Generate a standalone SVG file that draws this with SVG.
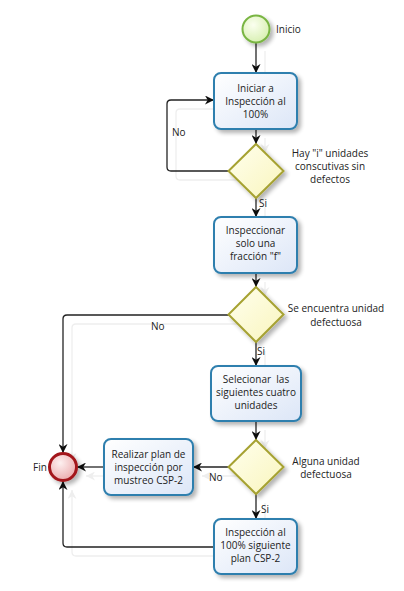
<svg xmlns="http://www.w3.org/2000/svg" width="404" height="591" viewBox="0 0 404 591">
<style>
text{font-family:"Open Sans","Noto Sans","Liberation Sans",sans-serif;font-size:10px;fill:#222;white-space:pre}
.c{text-anchor:middle}
.box{fill:url(#gBox);stroke:#2f7fae;stroke-width:2}
.dia{fill:url(#gDia);stroke:#a6a232;stroke-width:2}
.con{fill:none;stroke:#222;stroke-width:1.3;marker-end:url(#arr)}
.sh{filter:url(#shadow)}
</style>
<defs>
<linearGradient id="gBox" x1="0" y1="0" x2="1" y2="1"><stop offset="0" stop-color="#ffffff"/><stop offset="1" stop-color="#dce6f7"/></linearGradient>
<linearGradient id="gDia" x1="0" y1="0" x2="1" y2="1"><stop offset="0" stop-color="#ffffee"/><stop offset="1" stop-color="#f9f5bd"/></linearGradient>
<radialGradient id="gStart" cx="0.4" cy="0.35" r="0.7"><stop offset="0" stop-color="#fbfff0"/><stop offset="1" stop-color="#d6efaf"/></radialGradient>
<radialGradient id="gEnd" cx="0.4" cy="0.35" r="0.7"><stop offset="0" stop-color="#fdf0f0"/><stop offset="1" stop-color="#eba9ab"/></radialGradient>
<filter id="shadow" x="-20%" y="-20%" width="150%" height="150%"><feGaussianBlur in="SourceAlpha" stdDeviation="2"/><feOffset dx="3" dy="3"/><feComponentTransfer><feFuncA type="linear" slope="0.3"/></feComponentTransfer><feMerge><feMergeNode/><feMergeNode in="SourceGraphic"/></feMerge></filter>
<filter id="cshadow" x="-10%" y="-10%" width="130%" height="130%"><feOffset in="SourceAlpha" dx="9" dy="9"/><feComponentTransfer><feFuncA type="linear" slope="0.07"/></feComponentTransfer><feMerge><feMergeNode/><feMergeNode in="SourceGraphic"/></feMerge></filter>
<marker id="arr" viewBox="0 0 10 10" refX="10" refY="5" markerWidth="9" markerHeight="9" markerUnits="userSpaceOnUse" orient="auto"><path d="M0,0 L10,5 L0,10 L3,5 z" fill="#111"/></marker>
</defs>

<g id="connectors" filter="url(#cshadow)">
<path class="con" d="M256,42 V73"/>
<path class="con" d="M256,129 V144"/>
<path class="con" d="M229,171 H171 Q167,171 167,167 V104 Q167,100 171,100 H214"/>
<path class="con" d="M256,198 V217"/>
<path class="con" d="M256,273 V287"/>
<path class="con" d="M229,315 H67 Q63,315 63,319 V453"/>
<path class="con" d="M256,342 V366"/>
<path class="con" d="M256,421 V440"/>
<path class="con" d="M229,467 H193"/>
<path class="con" d="M104,467 H77"/>
<path class="con" d="M256,494 V519"/>
<path class="con" d="M214,547 H67 Q63,547 63,543 V481"/>
</g>
<g id="connector-labels">
<text x="172" y="136">No</text>
<text x="259" y="207">Si</text>
<text x="151" y="330">No</text>
<text x="257" y="355">Si</text>
<text x="209" y="481">No</text>
<text x="261" y="513">Si</text>
</g>

<g id="inicio">
<circle class="sh" cx="256" cy="29" r="13.5" fill="url(#gStart)" stroke="#79b543" stroke-width="2"/>
<text x="276" y="33">Inicio</text>
</g>

<g id="iniciar">
<rect class="box sh" x="214" y="73" width="83" height="56" rx="7"/>
<text class="c" x="255.5" y="92">Iniciar a</text>
<text class="c" x="255.5" y="105">Inspección al</text>
<text class="c" x="255.5" y="118">100%</text>
</g>

<g id="dec1">
<path class="dia sh" d="M256,144 L283.5,171 L256,198 L228.5,171 Z"/>
<text class="c" x="330" y="157">Hay "i" unidades</text>
<text class="c" x="330" y="170">conscutivas sin</text>
<text class="c" x="330" y="183">defectos</text>
</g>

<g id="inspeccionar">
<rect class="box sh" x="214" y="217" width="83" height="56" rx="7"/>
<text class="c" x="255.5" y="234">Inspeccionar</text>
<text class="c" x="255.5" y="247">solo una</text>
<text class="c" x="255.5" y="260">fracción "f"</text>
</g>

<g id="dec2">
<path class="dia sh" d="M256,287 L283.5,314.5 L256,342 L228.5,314.5 Z"/>
<text class="c" x="336" y="312">Se encuentra unidad</text>
<text class="c" x="336" y="326">defectuosa</text>
</g>

<g id="seleccionar">
<rect class="box sh" x="211" y="366" width="90" height="55" rx="7"/>
<text class="c" x="256" y="383">Selecionar  las</text>
<text class="c" x="256" y="396">siguientes cuatro</text>
<text class="c" x="256" y="409">unidades</text>
</g>

<g id="dec3">
<path class="dia sh" d="M256,440 L283.5,467 L256,494 L228.5,467 Z"/>
<text class="c" x="326" y="465">Alguna unidad</text>
<text class="c" x="326" y="478">defectuosa</text>
</g>

<g id="realizar">
<rect class="box sh" x="104" y="439" width="89" height="56" rx="7"/>
<text class="c" x="148.5" y="458">Realizar plan de</text>
<text class="c" x="148.5" y="471">inspección por</text>
<text class="c" x="148.5" y="484">mustreo CSP-2</text>
</g>

<g id="inspeccion100">
<rect class="box sh" x="214" y="519" width="83" height="55" rx="7"/>
<text class="c" x="255.5" y="536">Inspección al</text>
<text class="c" x="255.5" y="549">100% siguiente</text>
<text class="c" x="255.5" y="562">plan CSP-2</text>
</g>

<g id="fin">
<circle class="sh" cx="63" cy="467" r="13.5" fill="url(#gEnd)" stroke="#a3161a" stroke-width="3"/>
<text x="33" y="471">Fin</text>
</g>
</svg>
